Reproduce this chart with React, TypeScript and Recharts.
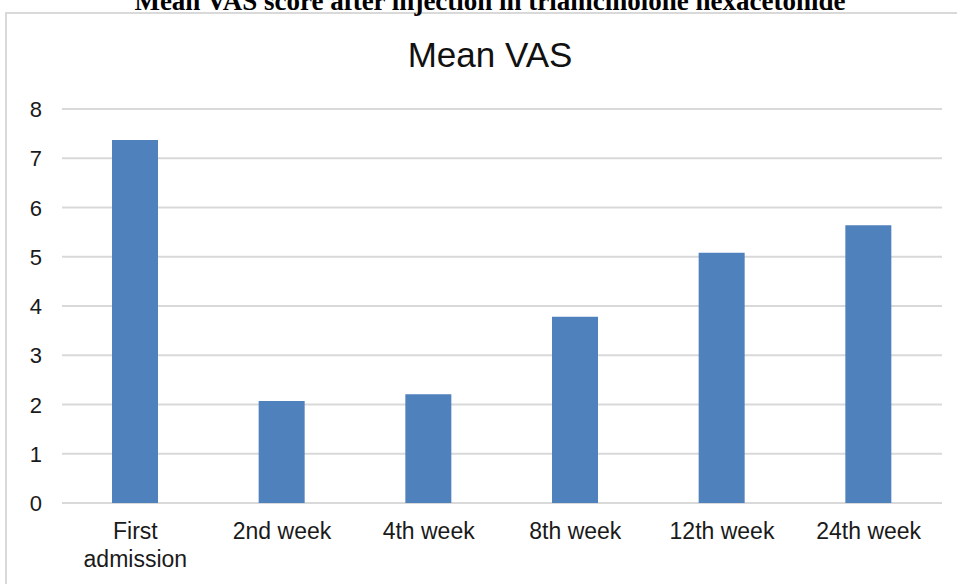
import React from "react";
import { Bar, BarChart, CartesianGrid, XAxis, YAxis } from "recharts";

const categories = ["First admission", "2nd week", "4th week", "8th week", "12th week", "24th week"];
const meanVas = [7.37, 2.07, 2.21, 3.78, 5.08, 5.64];
const yTicks = [0, 1, 2, 3, 4, 5, 6, 7, 8];

const data = categories.map((name, i) => ({ name, value: meanVas[i] }));

const FONT = "'Liberation Sans', Arial, sans-serif";

const XTick = (props: any) => {
  const { x, y, payload } = props;
  const words = String(payload.value) === "First admission" ? ["First", "admission"] : [payload.value];
  return (
    <text x={x} y={y} textAnchor="middle" fill="#1a1a1a" fontSize={23} fontFamily={FONT}>
      {words.map((w: string, i: number) => (
        <tspan key={i} x={x} dy={i === 0 ? 36 : 28}>
          {w}
        </tspan>
      ))}
    </text>
  );
};

const YTick = (props: any) => {
  const { x, y, payload } = props;
  return (
    <text x={x} y={y} dy={8} textAnchor="end" fill="#1a1a1a" fontSize={22} fontFamily={FONT}>
      {payload.value}
    </text>
  );
};

export default function App() {
  return (
    <div style={{ position: "fixed", left: 0, top: 0, width: 957, height: 584, background: "#fff", overflow: "hidden" }}>
      <svg width={957} height={584} style={{ position: "absolute", left: 0, top: 0 }}>
        <rect x={6} y={13} width={1000} height={1000} fill="none" stroke="#d9d9d9" strokeWidth={2} />
        <text x={490} y={10} textAnchor="middle" fontFamily="'Liberation Serif', 'Times New Roman', serif" fontWeight="bold" fontSize={27} fill="#000">
          Mean VAS score after injection in triamcinolone hexacetonide
        </text>
        <text x={490} y={67} textAnchor="middle" fontFamily={FONT} fontSize={35} fill="#111">
          Mean VAS
        </text>
      </svg>
      <div style={{ position: "absolute", left: 0, top: 0 }}>
        <BarChart width={957} height={584} data={data} margin={{ top: 109, right: 15, bottom: 0, left: 0 }}>
          <CartesianGrid vertical={false} stroke="#d9d9d9" strokeWidth={2} />
          <XAxis dataKey="name" axisLine={false} tickLine={false} tickSize={0} tickMargin={0} tick={<XTick />} interval={0} height={81} />
          <YAxis domain={[0, 8]} ticks={yTicks} axisLine={false} tickLine={false} tickSize={0} tickMargin={20} width={62} tick={<YTick />} />
          <Bar dataKey="value" fill="#4f81bd" barSize={46} isAnimationActive={false} />
        </BarChart>
      </div>
    </div>
  );
}
